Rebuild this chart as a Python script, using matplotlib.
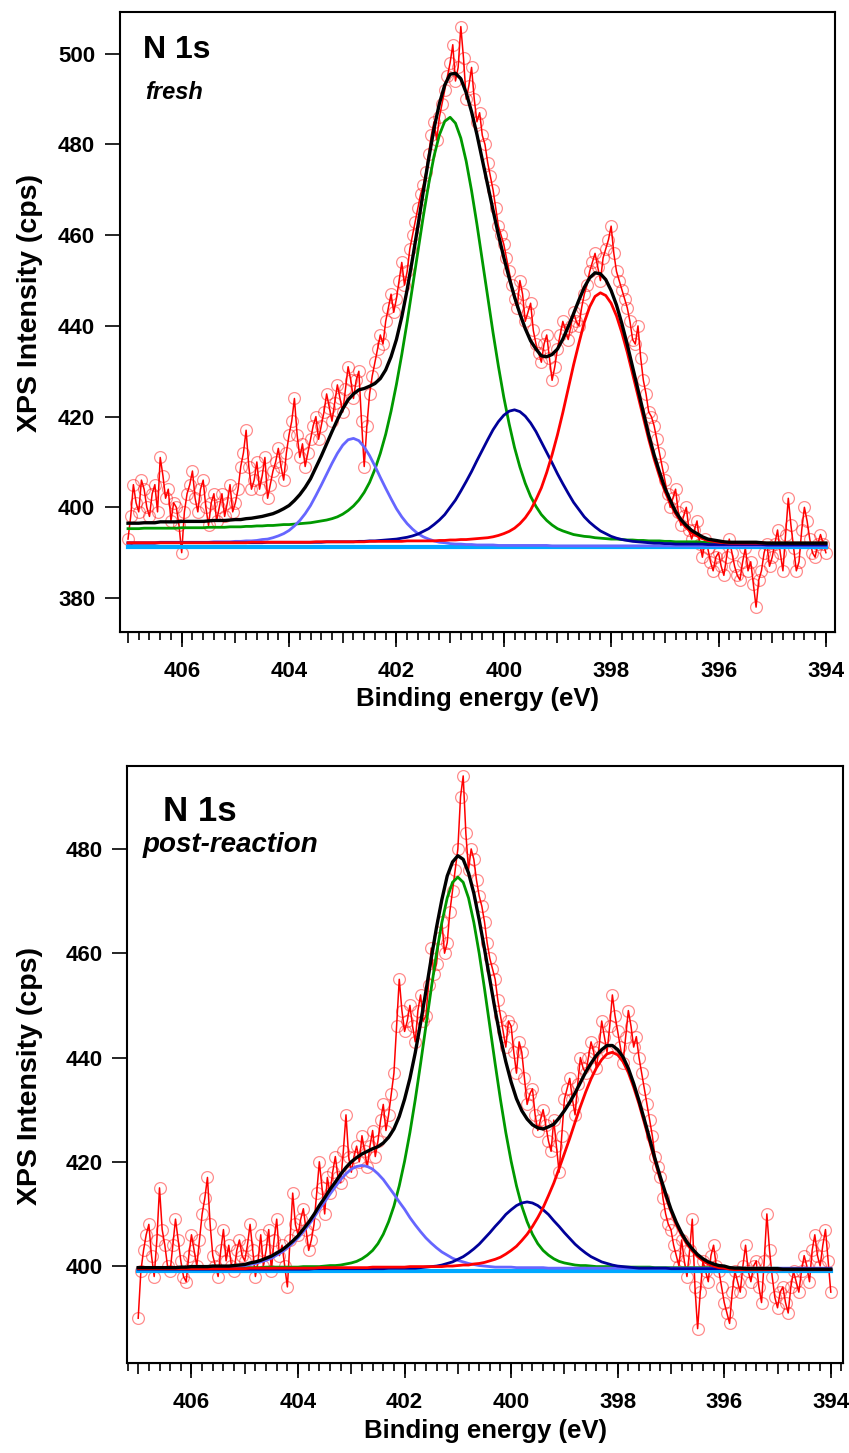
import numpy as np
import matplotlib.pyplot as plt
from matplotlib.ticker import MultipleLocator

plt.rcParams['font.family'] = ['Liberation Sans', 'DejaVu Sans']
plt.rcParams['font.weight'] = 'bold'

# binding energy grids, 407.0 -> 394.0 eV
energy = np.linspace(407.0, 394.0, 131)        # fit curves, 0.1 eV
energy_data = np.linspace(407.0, 394.0, 261)   # measured points, 0.05 eV

# ---------------- fresh ----------------
fresh_data = [
    393, 398, 405, 401, 399, 406, 404, 400, 398, 403, 405, 399, 411, 407, 402, 404, 397, 401, 400, 396,
    390, 399, 403, 405, 408, 402, 399, 404, 406, 400, 396, 401, 403, 397, 400, 403, 398, 401, 405, 399,
    401, 404, 409, 412, 417, 409, 404, 406, 410, 404, 407, 411, 402, 405, 408, 410, 413, 409, 406, 412,
    416, 419, 424, 416, 411, 414, 409, 412, 415, 418, 420, 415, 418, 421, 425, 422, 419, 423, 427, 424,
    421, 426, 431, 428, 424, 428, 430, 419, 409, 418, 425, 429, 432, 435, 438, 436, 441, 444, 447, 443,
    446, 450, 454, 449, 452, 457, 460, 463, 466, 469, 471, 474, 478, 482, 485, 481, 486, 489, 492, 495,
    498, 502, 494, 497, 506, 499, 490, 493, 497, 490, 485, 487, 482, 480, 476, 473, 470, 466, 462, 460,
    458, 455, 452, 449, 446, 444, 450, 447, 441, 443, 445, 439, 436, 434, 432, 436, 438, 433, 428, 431,
    435, 438, 441, 439, 437, 440, 443, 441, 440, 444, 447, 449, 452, 454, 456, 453, 450, 455, 457, 459,
    462, 456, 452, 450, 448, 446, 444, 441, 437, 436, 440, 433, 428, 425, 421, 420, 418, 415, 412, 409,
    406, 403, 400, 402, 404, 399, 396, 398, 400, 395, 393, 395, 397, 392, 389, 393, 391, 388, 386, 389,
    390, 387, 385, 389, 393, 390, 387, 385, 384, 388, 391, 386, 388, 383, 378, 384, 386, 390, 392, 387,
    389, 392, 395, 390, 386, 394, 402, 396, 391, 386, 388, 395, 400, 397, 393, 390, 389, 392, 394, 392,
    390]
fresh_lb = [
    392.2, 392.2, 392.2, 392.2, 392.2, 392.2, 392.3, 392.3, 392.3, 392.3,
    392.3, 392.3, 392.3, 392.3, 392.3, 392.3, 392.4, 392.4, 392.4, 392.4,
    392.5, 392.5, 392.6, 392.6, 392.7, 392.9, 393.0, 393.3, 393.7, 394.2,
    394.9, 395.9, 397.1, 398.6, 400.4, 402.6, 404.9, 407.3, 409.7, 411.9,
    413.7, 414.9, 415.2, 414.7, 413.3, 411.4, 409.1, 406.6, 404.2, 401.9,
    399.7, 397.9, 396.4, 395.2, 394.2, 393.5, 393.0, 392.6, 392.3, 392.2,
    392.0, 391.9, 391.9, 391.8, 391.8, 391.7, 391.7, 391.7, 391.7, 391.6,
    391.6, 391.6, 391.6, 391.6, 391.6, 391.6, 391.6, 391.6, 391.6, 391.5,
    391.5, 391.5, 391.5, 391.5, 391.5, 391.5, 391.5, 391.5, 391.5, 391.5,
    391.5, 391.5, 391.5, 391.5, 391.5, 391.5, 391.5, 391.5, 391.5, 391.5,
    391.5, 391.5, 391.5, 391.5, 391.5, 391.5, 391.5, 391.5, 391.5, 391.5,
    391.5, 391.5, 391.5, 391.5, 391.5, 391.5, 391.5, 391.5, 391.5, 391.5,
    391.5, 391.5, 391.5, 391.5, 391.5, 391.5, 391.5, 391.5, 391.5, 391.5,
    391.5]
fresh_nv = [
    392.1, 392.1, 392.1, 392.1, 392.1, 392.1, 392.2, 392.2, 392.2, 392.2,
    392.2, 392.2, 392.2, 392.2, 392.2, 392.2, 392.2, 392.2, 392.2, 392.2,
    392.2, 392.2, 392.2, 392.2, 392.2, 392.2, 392.3, 392.3, 392.3, 392.3,
    392.3, 392.3, 392.3, 392.3, 392.3, 392.3, 392.3, 392.4, 392.4, 392.4,
    392.4, 392.4, 392.4, 392.5, 392.5, 392.6, 392.6, 392.7, 392.8, 392.9,
    393.0, 393.2, 393.4, 393.7, 394.1, 394.7, 395.3, 396.2, 397.2, 398.4,
    400.0, 401.6, 403.6, 405.7, 407.9, 410.3, 412.6, 414.9, 417.1, 418.9,
    420.3, 421.2, 421.5, 421.1, 420.1, 418.6, 416.7, 414.4, 412.1, 409.8,
    407.4, 405.2, 403.1, 401.1, 399.5, 397.9, 396.7, 395.7, 394.8, 394.2,
    393.6, 393.2, 392.9, 392.7, 392.5, 392.4, 392.3, 392.2, 392.1, 392.1,
    392.0, 392.0, 391.9, 391.9, 391.9, 391.9, 391.9, 391.9, 391.8, 391.8,
    391.8, 391.8, 391.8, 391.8, 391.8, 391.8, 391.8, 391.8, 391.8, 391.7,
    391.7, 391.7, 391.7, 391.7, 391.7, 391.7, 391.7, 391.7, 391.7, 391.7,
    391.7]
fresh_gr = [
    395.3, 395.3, 395.3, 395.4, 395.4, 395.4, 395.4, 395.4, 395.4, 395.4,
    395.5, 395.5, 395.5, 395.5, 395.5, 395.6, 395.6, 395.6, 395.6, 395.7,
    395.7, 395.7, 395.8, 395.8, 395.9, 395.9, 396.0, 396.0, 396.1, 396.2,
    396.2, 396.3, 396.4, 396.5, 396.6, 396.8, 397.0, 397.2, 397.5, 397.9,
    398.5, 399.3, 400.3, 401.6, 403.3, 405.5, 408.4, 411.9, 416.1, 421.2,
    427.1, 433.7, 440.9, 448.6, 456.4, 464.1, 471.2, 477.4, 482.1, 485.1,
    486.0, 484.7, 481.4, 476.3, 469.8, 462.4, 454.4, 446.4, 438.5, 431.1,
    424.3, 418.4, 413.2, 408.9, 405.3, 402.4, 400.2, 398.4, 397.1, 396.1,
    395.3, 394.8, 394.4, 394.0, 393.8, 393.6, 393.5, 393.3, 393.2, 393.1,
    393.0, 393.0, 392.9, 392.8, 392.8, 392.7, 392.7, 392.6, 392.6, 392.6,
    392.5, 392.5, 392.4, 392.4, 392.4, 392.4, 392.4, 392.3, 392.3, 392.3,
    392.3, 392.2, 392.2, 392.2, 392.2, 392.2, 392.2, 392.2, 392.1, 392.1,
    392.1, 392.1, 392.1, 392.1, 392.1, 392.1, 392.1, 392.1, 392.1, 392.1,
    392.1]
fresh_rd = [
    392.2, 392.2, 392.2, 392.2, 392.2, 392.2, 392.2, 392.2, 392.2, 392.2,
    392.2, 392.2, 392.2, 392.2, 392.2, 392.2, 392.2, 392.2, 392.2, 392.2,
    392.2, 392.2, 392.2, 392.3, 392.3, 392.3, 392.3, 392.3, 392.3, 392.3,
    392.3, 392.3, 392.3, 392.3, 392.3, 392.4, 392.4, 392.4, 392.4, 392.4,
    392.4, 392.4, 392.4, 392.4, 392.4, 392.5, 392.5, 392.5, 392.5, 392.5,
    392.5, 392.5, 392.6, 392.6, 392.6, 392.6, 392.6, 392.6, 392.7, 392.7,
    392.8, 392.8, 392.9, 392.9, 393.0, 393.1, 393.2, 393.3, 393.5, 393.8,
    394.2, 394.7, 395.4, 396.4, 397.7, 399.4, 401.7, 404.3, 407.7, 411.6,
    416.0, 420.9, 426.1, 431.4, 436.2, 440.8, 444.2, 446.5, 447.3, 446.7,
    445.0, 442.2, 438.5, 434.2, 429.4, 424.5, 419.7, 415.0, 410.7, 406.9,
    403.6, 400.9, 398.6, 396.8, 395.5, 394.4, 393.7, 393.1, 392.7, 392.5,
    392.3, 392.2, 392.1, 392.1, 392.1, 392.1, 392.1, 392.1, 392.1, 392.1,
    392.1, 392.1, 392.1, 392.1, 392.1, 392.1, 392.1, 392.1, 392.1, 392.1,
    392.1]
fresh_bg = [391.3, 391.3]
fresh_base = [391.5, 391.7, 392.1]   # lb, nv, rd own baselines

# ---------------- post-reaction ----------------
post_data = [
    390, 399, 403, 406, 408, 402, 398, 405, 415, 407, 404, 400, 399, 404, 409, 405, 401, 398, 397, 402,
    406, 403, 400, 405, 410, 413, 417, 408, 402, 400, 398, 403, 407, 401, 404, 400, 399, 403, 405, 402,
    401, 404, 408, 403, 398, 401, 406, 400, 403, 407, 399, 405, 409, 402, 404, 400, 396, 405, 414, 408,
    406, 409, 411, 407, 403, 405, 408, 414, 420, 415, 410, 417, 414, 418, 421, 417, 416, 422, 429, 421,
    418, 421, 423, 420, 425, 422, 419, 423, 426, 421, 424, 428, 431, 426, 429, 433, 437, 446, 455, 449,
    445, 447, 450, 446, 443, 449, 452, 447, 448, 454, 461, 456, 458, 463, 466, 460, 462, 468, 472, 476,
    480, 490, 494, 483, 476, 480, 478, 474, 471, 469, 466, 462, 459, 457, 455, 451, 448, 445, 442, 447,
    446, 441, 437, 443, 441, 436, 431, 433, 434, 429, 426, 428, 430, 427, 424, 422, 428, 423, 418, 425,
    432, 434, 436, 432, 429, 435, 440, 438, 437, 440, 443, 441, 438, 442, 447, 444, 441, 446, 452, 448,
    445, 442, 439, 444, 449, 446, 442, 444, 440, 437, 434, 431, 428, 425, 421, 419, 417, 413, 410, 408,
    407, 404, 402, 400, 405, 401, 398, 403, 409, 396, 388, 395, 401, 399, 397, 402, 404, 400, 399, 396,
    393, 391, 389, 395, 399, 397, 395, 400, 404, 399, 397, 400, 401, 396, 393, 401, 410, 403, 398, 394,
    392, 395, 396, 393, 391, 396, 399, 397, 395, 399, 402, 400, 397, 403, 406, 402, 400, 404, 407, 401,
    395]
post_lb = [
    399.6, 399.6, 399.6, 399.6, 399.6, 399.6, 399.6, 399.6, 399.7, 399.7,
    399.7, 399.7, 399.7, 399.7, 399.8, 399.8, 399.8, 399.8, 399.9, 400.0,
    400.1, 400.3, 400.5, 400.8, 401.1, 401.5, 402.1, 402.7, 403.5, 404.4,
    405.4, 406.6, 407.9, 409.3, 410.9, 412.3, 413.8, 415.2, 416.6, 417.7,
    418.6, 419.1, 419.3, 419.1, 418.6, 417.7, 416.6, 415.2, 413.8, 412.3,
    410.9, 409.3, 407.9, 406.6, 405.4, 404.4, 403.5, 402.7, 402.1, 401.5,
    401.1, 400.8, 400.5, 400.3, 400.1, 400.0, 399.9, 399.8, 399.8, 399.8,
    399.8, 399.7, 399.7, 399.7, 399.7, 399.7, 399.7, 399.6, 399.6, 399.6,
    399.6, 399.6, 399.6, 399.6, 399.6, 399.6, 399.6, 399.6, 399.6, 399.6,
    399.6, 399.6, 399.6, 399.6, 399.6, 399.6, 399.6, 399.6, 399.6, 399.6,
    399.6, 399.6, 399.6, 399.6, 399.6, 399.6, 399.6, 399.6, 399.6, 399.6,
    399.6, 399.6, 399.6, 399.6, 399.6, 399.6, 399.6, 399.6, 399.6, 399.6,
    399.6, 399.6, 399.6, 399.6, 399.6, 399.6, 399.6, 399.6, 399.6, 399.6,
    399.6]
post_nv = [
    399.4, 399.4, 399.4, 399.4, 399.4, 399.4, 399.4, 399.4, 399.4, 399.4,
    399.4, 399.4, 399.4, 399.4, 399.4, 399.4, 399.4, 399.4, 399.4, 399.4,
    399.4, 399.4, 399.4, 399.4, 399.4, 399.4, 399.4, 399.4, 399.4, 399.4,
    399.4, 399.4, 399.4, 399.5, 399.5, 399.5, 399.5, 399.5, 399.5, 399.5,
    399.5, 399.5, 399.5, 399.5, 399.5, 399.5, 399.5, 399.6, 399.6, 399.6,
    399.6, 399.6, 399.6, 399.7, 399.8, 399.9, 400.0, 400.2, 400.5, 400.8,
    401.3, 401.8, 402.5, 403.3, 404.2, 405.3, 406.4, 407.6, 408.7, 409.9,
    410.8, 411.6, 412.1, 412.3, 412.1, 411.6, 410.8, 409.9, 408.7, 407.6,
    406.4, 405.3, 404.2, 403.3, 402.5, 401.8, 401.3, 400.8, 400.5, 400.2,
    400.0, 399.9, 399.8, 399.7, 399.6, 399.6, 399.6, 399.6, 399.6, 399.6,
    399.5, 399.5, 399.5, 399.5, 399.5, 399.5, 399.5, 399.5, 399.5, 399.5,
    399.5, 399.5, 399.5, 399.5, 399.4, 399.4, 399.4, 399.4, 399.4, 399.4,
    399.4, 399.4, 399.4, 399.4, 399.4, 399.4, 399.4, 399.4, 399.4, 399.4,
    399.4]
post_gr = [
    399.6, 399.6, 399.6, 399.6, 399.6, 399.6, 399.6, 399.6, 399.6, 399.6,
    399.7, 399.7, 399.7, 399.7, 399.7, 399.7, 399.7, 399.7, 399.7, 399.7,
    399.7, 399.7, 399.7, 399.7, 399.8, 399.8, 399.8, 399.8, 399.8, 399.8,
    399.8, 399.9, 399.9, 399.9, 399.9, 400.0, 400.1, 400.1, 400.2, 400.4,
    400.6, 400.9, 401.4, 402.1, 403.0, 404.3, 406.1, 408.5, 411.5, 415.4,
    420.1, 425.6, 431.9, 438.8, 446.0, 453.2, 460.0, 465.9, 470.6, 473.6,
    474.6, 473.6, 470.6, 465.9, 460.0, 453.2, 446.0, 438.8, 431.9, 425.6,
    420.1, 415.4, 411.5, 408.5, 406.1, 404.3, 403.0, 402.1, 401.4, 400.9,
    400.6, 400.4, 400.2, 400.1, 400.1, 400.0, 399.9, 399.9, 399.9, 399.9,
    399.8, 399.8, 399.8, 399.8, 399.8, 399.8, 399.8, 399.7, 399.7, 399.7,
    399.7, 399.7, 399.7, 399.7, 399.7, 399.7, 399.7, 399.7, 399.7, 399.7,
    399.7, 399.6, 399.6, 399.6, 399.6, 399.6, 399.6, 399.6, 399.6, 399.6,
    399.6, 399.5, 399.5, 399.5, 399.5, 399.5, 399.5, 399.5, 399.5, 399.5,
    399.5]
post_rd = [
    399.5, 399.5, 399.5, 399.5, 399.5, 399.5, 399.5, 399.5, 399.5, 399.5,
    399.5, 399.5, 399.5, 399.5, 399.5, 399.5, 399.5, 399.5, 399.5, 399.5,
    399.5, 399.6, 399.6, 399.6, 399.6, 399.6, 399.6, 399.6, 399.6, 399.6,
    399.6, 399.6, 399.6, 399.6, 399.7, 399.7, 399.7, 399.7, 399.7, 399.7,
    399.7, 399.7, 399.7, 399.7, 399.8, 399.8, 399.8, 399.8, 399.8, 399.8,
    399.8, 399.9, 399.9, 399.9, 399.9, 399.9, 399.9, 399.9, 400.0, 400.0,
    400.1, 400.2, 400.2, 400.4, 400.5, 400.7, 401.0, 401.3, 401.7, 402.3,
    403.0, 403.8, 404.9, 406.1, 407.6, 409.3, 411.2, 413.5, 415.9, 418.7,
    421.6, 424.5, 427.6, 430.6, 433.4, 435.9, 438.0, 439.6, 440.7, 441.0,
    440.5, 439.2, 437.1, 434.3, 431.1, 427.5, 423.8, 420.1, 416.6, 413.4,
    410.5, 408.0, 405.9, 404.2, 402.9, 401.8, 401.0, 400.4, 400.0, 399.7,
    399.6, 399.4, 399.3, 399.3, 399.3, 399.3, 399.3, 399.3, 399.3, 399.3,
    399.3, 399.3, 399.3, 399.3, 399.3, 399.3, 399.3, 399.3, 399.3, 399.3,
    399.3]
post_bg = [399.05, 399.05]
post_base = [399.6, 399.4, 399.4]

even_ticks = [394, 396, 398, 400, 402, 404, 406]


def draw_panel(ax, data, lb, nv, gr, rd, bg, base, ylim, xlim, yticks):
    lb = np.array(lb); nv = np.array(nv); gr = np.array(gr); rd = np.array(rd)
    envelope = gr + (lb - base[0]) + (nv - base[1]) + (rd - base[2])

    ax.plot(energy_data, data, color='#ff0000', lw=1.1, zorder=2)
    ax.plot(energy_data, data, ls='none', marker='o', ms=8.5, mfc='none',
            mec=(1, 0, 0, 0.45), mew=0.9, zorder=2)
    ax.plot([energy[0], energy[-1]], bg, color='#00a8ff', lw=3, zorder=3)
    ax.plot(energy, gr, color='#009900', lw=2, zorder=3)
    ax.plot(energy, lb, color='#6666ff', lw=2, zorder=3)
    ax.plot(energy, nv, color='#000099', lw=2, zorder=3)
    ax.plot(energy, rd, color='#ff0000', lw=2, zorder=3)
    ax.plot(energy, envelope, color='black', lw=2.4, zorder=4)

    ax.set_xlim(*xlim)
    ax.set_ylim(*ylim)
    ax.set_yticks(yticks)
    ax.tick_params(axis='y', length=10.8, width=1.2, labelsize=16, pad=7)

    ax.xaxis.set_major_locator(MultipleLocator(1))
    ax.xaxis.set_minor_locator(MultipleLocator(0.2))
    ax.tick_params(axis='x', which='major', length=7.6, width=1.2,
                   labelbottom=False)
    ax.tick_params(axis='x', which='minor', length=5.8, width=1.2)
    sec = ax.secondary_xaxis('bottom')
    sec.set_xticks(even_ticks)
    sec.tick_params(length=10.8, width=1.2, labelsize=16, pad=10)
    sec.set_xlabel('Binding energy (eV)', fontsize=18.5, fontweight='bold',
                   labelpad=4)
    for s in ax.spines.values():
        s.set_linewidth(1.5)
    ax.set_ylabel('XPS Intensity (cps)', fontsize=20.5, fontweight='bold')
    return sec


fig = plt.figure(figsize=(8.49, 14.53), dpi=100)
ax1 = fig.add_axes([0.1413, 0.5650, 0.8422, 0.4267])
ax2 = fig.add_axes([0.1496, 0.0619, 0.8434, 0.4109])

draw_panel(ax1, fresh_data, fresh_lb, fresh_nv, fresh_gr, fresh_rd,
           fresh_bg, fresh_base, (372.5, 509.2), (407.15, 393.83),
           [380, 400, 420, 440, 460, 480, 500])
draw_panel(ax2, post_data, post_lb, post_nv, post_gr, post_rd,
           post_bg, post_base, (381.4, 495.9), (407.21, 393.77),
           [400, 420, 440, 460, 480])

ax1.yaxis.set_label_coords(-0.108, 0.53)
ax2.yaxis.set_label_coords(-0.117, 0.48)

ax1.text(0.032, 0.926, 'N 1s', transform=ax1.transAxes, fontsize=23,
         fontweight='bold')
ax1.text(0.035, 0.86, 'fresh', transform=ax1.transAxes, fontsize=17,
         fontweight='bold', style='italic')
ax2.text(0.05, 0.908, 'N 1s', transform=ax2.transAxes, fontsize=25,
         fontweight='bold')
ax2.text(0.022, 0.856, 'post-reaction', transform=ax2.transAxes,
         fontsize=20, fontweight='bold', style='italic')

fig.savefig('out.png', dpi=100)
